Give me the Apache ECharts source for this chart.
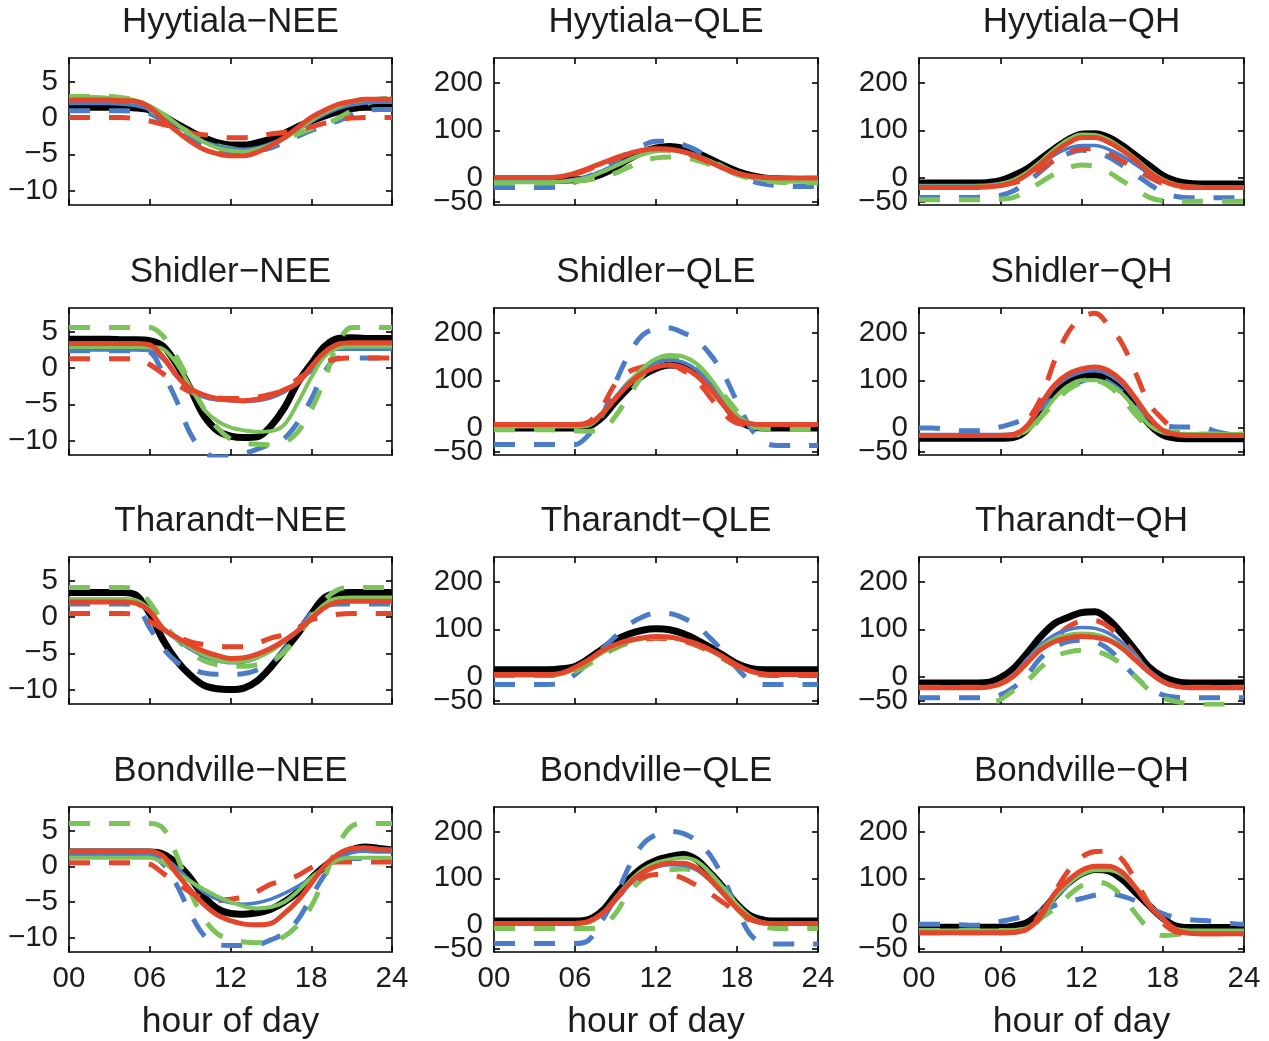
<!DOCTYPE html>
<html><head><meta charset="utf-8">
<script src="https://cdn.jsdelivr.net/npm/echarts@6/dist/echarts.min.js"></script>
<style>html,body{margin:0;padding:0;background:#fff}#c{width:1269px;height:1041px}</style>
</head><body><div id="c"></div><script>
// ---------------- DATA ----------------
const hours = [0,1,2,3,4,5,6,7,8,9,10,11,12,13,14,15,16,17,18,19,20,21,22,23,24];
const xTickValues = [0,6,12,18,24];
const xTickLabels = ['00','06','12','18','24'];
const neeTicks = [-10,-5,0,5];
const fluxTicks = [-50,0,100,200];
const neeRange = [-12, 8.3];
const fluxRange = [-57, 252];
const siteNames = ['Hyytiala','Shidler','Tharandt','Bondville'];
const varNames = ['NEE','QLE','QH'];
const xAxisTitle = 'hour of day';

// Hyytiala
const hyyNEE_obs = [1.5,1.5,1.5,1.5,1.5,1.4,1.1,0.3,-0.8,-1.8,-2.7,-3.4,-3.7,-3.7,-3.4,-2.9,-2.1,-1.2,-0.4,0.3,0.9,1.3,1.5,1.5,1.5];
const hyyNEE_bS = [2.0,2.0,2.0,2.0,1.9,1.7,1.2,0.2,-1.0,-2.2,-3.2,-3.8,-4.2,-4.3,-4.1,-3.5,-2.7,-1.6,-0.5,0.5,1.3,1.8,2.1,2.2,2.2];
const hyyNEE_gS = [2.9,2.9,2.9,2.8,2.7,2.4,1.7,0.6,-0.8,-2.2,-3.3,-4.1,-4.5,-4.6,-4.3,-3.7,-2.8,-1.6,-0.3,0.8,1.6,2.2,2.5,2.6,2.6];
const hyyNEE_rS = [2.5,2.5,2.5,2.5,2.4,2.3,1.5,-0.2,-1.8,-3.2,-4.3,-4.9,-5.2,-5.2,-4.7,-3.8,-2.7,-1.3,0.1,1.1,1.9,2.3,2.6,2.6,2.6];
const hyyNEE_bD = [1.0,1.0,1.0,1.0,1.0,0.9,0.6,-0.5,-1.8,-2.9,-3.8,-4.3,-4.6,-4.7,-4.5,-4.1,-3.3,-2.5,-1.7,-1.0,-0.4,0.4,1.0,1.2,1.2];
const hyyNEE_gD = [3.0,3.0,3.0,3.0,2.8,2.4,1.2,0.1,-1.0,-2.0,-3.1,-3.8,-4.2,-4.4,-4.3,-3.8,-3.0,-2.2,-1.5,-0.9,0.0,1.0,1.9,2.6,2.8];
const hyyNEE_rD = [0.1,0.1,0.1,0.1,0.1,-0.1,-0.4,-0.9,-1.3,-2.0,-2.3,-2.5,-2.7,-2.7,-2.6,-2.2,-2.0,-1.6,-1.2,-0.7,-0.2,0.0,0.1,0.1,0.1];

const hyyQLE_obs = [-5,-5,-5,-5,-5,-5,-4,-1,8,22,40,54,63,66,62,53,40,26,14,5,0,-2,-3,-4,-4];
const hyyQLE_bS = [-8,-8,-8,-8,-8,-7,-3,4,15,28,40,50,57,58,55,47,35,22,11,3,-3,-6,-7,-7,-7];
const hyyQLE_gS = [-9,-9,-9,-9,-9,-8,-5,1,12,25,38,49,56,58,55,47,36,23,11,2,-4,-7,-8,-8,-8];
const hyyQLE_rS = [1,1,1,1,1,3,10,20,31,42,51,58,61,60,55,46,33,20,10,4,1,0,0,0,0];
const hyyQLE_bD = [-20,-20,-20,-20,-20,-19,-9,3,19,37,54,68,77,77,70,58,40,23,7,-6,-13,-16,-18,-18,-18];
const hyyQLE_gD = [-11,-11,-11,-11,-11,-10,-7,-4,1,10,23,35,42,44,42,37,28,18,7,-1,-6,-9,-10,-10,-10];
const hyyQLE_rD = [0,0,0,0,0,2,8,18,29,40,50,56,59,58,53,44,32,20,10,3,0,-1,-1,-1,-1];

const hyyQH_obs = [-11,-11,-11,-11,-11,-10,-6,5,19,40,61,80,92,93,85,68,47,26,5,-7,-12,-13,-13,-13,-13];
const hyyQH_bS = [-16,-16,-16,-16,-16,-15,-12,-5,8,28,48,62,68,68,60,46,28,8,-7,-15,-18,-19,-19,-19,-19];
const hyyQH_gS = [-18,-18,-18,-18,-18,-17,-13,-4,12,35,60,80,91,90,80,62,40,16,-3,-14,-18,-19,-19,-19,-19];
const hyyQH_rS = [-20,-20,-20,-20,-20,-19,-16,-9,7,30,54,73,85,85,75,58,37,12,-6,-16,-19,-20,-20,-20,-20];
const hyyQH_bD = [-41,-41,-41,-41,-41,-40,-37,-27,-9,14,37,51,58,54,44,26,7,-13,-30,-39,-42,-42,-42,-42,-42];
const hyyQH_gD = [-46,-46,-46,-46,-46,-46,-45,-41,-27,-9,8,21,27,24,12,-6,-23,-41,-48,-49,-49,-49,-49,-49,-49];
const hyyQH_rD = [-20,-20,-20,-20,-20,-19,-16,-10,-2,18,37,52,62,62,52,36,18,2,-12,-18,-20,-20,-20,-20,-20];

// Shidler
const shiNEE_obs = [4.0,4.0,4.0,4.0,3.9,3.9,3.8,3.0,0.5,-2.8,-6.5,-8.6,-9.4,-9.6,-9.5,-8.0,-5.5,-2.0,0.6,3.0,4.1,4.2,4.1,4.1,4.1];
const shiNEE_bS = [2.5,2.5,2.5,2.5,2.5,2.5,2.4,1.2,-1.2,-3.0,-4.0,-4.4,-4.5,-4.6,-4.5,-4.1,-3.3,-2.0,-0.3,1.8,2.6,2.6,2.6,2.6,2.6];
const shiNEE_gS = [2.9,2.9,2.9,2.9,2.9,2.9,2.9,2.6,0.6,-2.5,-5.6,-7.3,-8.2,-8.6,-8.8,-8.7,-7.8,-4.8,-1.3,1.6,2.8,3.0,3.0,3.0,3.0];
const shiNEE_rS = [3.4,3.4,3.4,3.4,3.4,3.4,3.2,1.5,-1.0,-2.8,-3.7,-4.2,-4.4,-4.5,-4.3,-3.8,-3.0,-2.0,0.2,2.2,3.3,3.5,3.5,3.5,3.5];
const shiNEE_bD = [2.4,2.4,2.4,2.4,2.4,2.4,2.2,-0.8,-4.5,-9.0,-11.5,-12.3,-12.2,-11.8,-11.2,-10.5,-9.7,-7.5,-4.3,-0.5,1.4,1.4,1.4,1.4,1.4];
const shiNEE_gD = [5.6,5.6,5.6,5.6,5.6,5.6,5.6,4.4,1.5,-2.0,-5.5,-8.2,-9.8,-10.4,-10.5,-10.6,-10.3,-8.8,-5.8,-1.5,3.5,5.6,5.6,5.6,5.6];
const shiNEE_rD = [1.3,1.3,1.3,1.3,1.3,1.3,0.5,-0.8,-2.2,-3.3,-3.9,-4.1,-4.2,-4.2,-4.0,-3.6,-3.0,-1.5,-0.3,0.8,1.3,1.4,1.4,1.4,1.4];

const shiQLE_obs = [0,0,0,0,0,0,0,3,22,55,85,110,125,132,130,115,88,52,18,3,0,0,0,0,0];
const shiQLE_bS = [4,4,4,4,4,4,4,6,30,65,98,122,138,142,138,122,92,55,22,8,6,6,6,6,6];
const shiQLE_gS = [3,3,3,3,3,3,3,5,28,62,95,125,145,153,150,135,105,65,28,10,7,7,7,7,7];
const shiQLE_rS = [7,7,7,7,7,7,7,9,30,62,92,115,128,132,127,110,82,48,18,9,7,7,7,7,7];
const shiQLE_bD = [-35,-35,-35,-35,-35,-35,-35,-15,25,95,155,195,208,210,200,185,155,113,55,0,-30,-37,-37,-37,-37];
const shiQLE_gD = [-4,-4,-4,-4,-4,-5,-6,-7,-5,25,68,110,140,150,145,128,100,70,35,5,-2,-3,-3,-3,-3];
const shiQLE_rD = [7,7,7,7,7,7,7,12,44,93,118,128,132,132,121,100,65,30,10,7,7,7,7,7,7];

const shiQH_obs = [-22,-22,-22,-22,-22,-22,-22,-20,-3,40,76,98,108,111,100,78,45,8,-15,-22,-23,-23,-23,-23,-23];
const shiQH_bS = [-14,-14,-14,-14,-14,-14,-14,-12,2,44,84,106,117,120,113,92,58,20,-5,-12,-14,-14,-14,-14,-14];
const shiQH_gS = [-16,-16,-16,-16,-16,-16,-16,-15,-6,25,62,88,100,100,92,72,40,6,-10,-13,-13,-13,-13,-13,-13];
const shiQH_rS = [-16,-16,-16,-16,-16,-16,-16,-14,5,50,90,113,124,128,120,98,62,22,-5,-14,-16,-16,-16,-16,-16];
const shiQH_bD = [0,0,-3,-6,-6,-4,2,10,22,42,64,85,98,104,96,75,48,22,6,2,2,1,-8,-13,-13];
const shiQH_gD = [-16,-16,-16,-16,-16,-16,-16,-15,-10,22,52,80,95,99,88,62,28,2,-6,-9,-11,-13,-13,-13,-13];
const shiQH_rD = [-16,-16,-16,-16,-16,-16,-16,-14,15,62,140,200,232,241,215,177,115,51,18,-8,-15,-16,-16,-16,-16];

// Tharandt
const thaNEE_obs = [3.4,3.4,3.4,3.4,3.4,3.0,0.5,-3.2,-6.0,-8.0,-9.4,-9.9,-10.0,-9.8,-8.8,-6.9,-4.6,-2.3,0.4,2.7,3.3,3.4,3.4,3.4,3.4];
const thaNEE_bS = [2.2,2.2,2.2,2.2,2.2,2.0,0.8,-1.7,-3.1,-4.4,-5.4,-6.0,-6.3,-6.2,-5.6,-4.6,-3.3,-1.8,0.0,1.6,2.2,2.3,2.3,2.3,2.3];
const thaNEE_gS = [2.5,2.5,2.5,2.5,2.5,2.3,1.0,-1.6,-3.0,-4.2,-5.2,-5.9,-6.2,-6.1,-5.6,-4.7,-3.4,-1.9,0.0,1.8,2.6,2.7,2.7,2.7,2.7];
const thaNEE_rS = [2.1,2.1,2.1,2.1,2.1,1.9,0.8,-1.6,-2.8,-3.8,-4.7,-5.3,-5.7,-5.6,-5.1,-4.3,-3.2,-1.9,-0.2,1.3,2.1,2.2,2.2,2.2,2.2];
const thaNEE_bD = [1.8,1.8,1.8,1.8,1.8,1.5,-1.5,-4.3,-6.2,-7.1,-7.7,-7.9,-7.9,-7.8,-7.3,-6.4,-4.5,-2.0,0.5,1.6,1.8,1.8,1.8,1.8,1.8];
const thaNEE_gD = [4.1,4.1,4.1,4.1,4.1,3.8,2.0,-0.8,-3.0,-4.8,-6.0,-6.6,-6.8,-6.8,-6.6,-6.2,-4.8,-2.6,0.0,2.4,3.8,4.1,4.1,4.1,4.1];
const thaNEE_rD = [0.5,0.5,0.5,0.5,0.5,0.3,-0.6,-1.7,-2.6,-3.4,-3.8,-4.0,-4.1,-4.1,-3.6,-2.9,-2.4,-1.5,-0.4,0.1,0.4,0.5,0.5,0.5,0.5];

const thaQLE_obs = [15,15,15,15,15,17,22,38,58,77,90,98,101,99,91,78,62,45,28,18,15,15,15,15,15];
const thaQLE_bS = [5,5,5,5,5,8,18,34,52,66,76,82,84,83,78,69,56,41,24,11,6,5,5,5,5];
const thaQLE_gS = [3,3,3,3,3,6,16,32,50,64,74,80,82,82,77,68,55,40,24,11,5,4,4,4,4];
const thaQLE_rS = [5,5,5,5,5,8,20,36,55,68,77,82,85,84,78,70,57,42,25,12,6,5,5,5,5];
const thaQLE_bD = [-16,-16,-16,-16,-16,-12,5,30,58,85,110,126,134,133,124,108,82,52,18,-8,-16,-16,-16,-16,-16];
const thaQLE_gD = [3,3,3,3,3,5,12,26,45,60,72,79,82,81,77,68,54,38,22,10,5,4,4,4,4];
const thaQLE_rD = [3,3,3,3,3,6,16,32,50,64,74,79,81,80,75,66,53,38,22,10,4,3,3,3,3];

const thaQH_obs = [-13,-13,-13,-13,-13,-12,-2,18,50,85,112,125,135,137,120,90,55,20,0,-10,-13,-13,-13,-13,-13];
const thaQH_bS = [-22,-22,-22,-22,-22,-21,-13,6,38,68,88,99,104,102,92,72,44,14,-8,-19,-22,-22,-22,-22,-22];
const thaQH_gS = [-22,-22,-22,-22,-22,-21,-14,3,32,62,80,88,91,89,80,63,38,10,-10,-20,-22,-22,-22,-22,-22];
const thaQH_rS = [-23,-23,-23,-23,-23,-22,-15,2,30,58,74,82,85,83,77,60,35,10,-10,-20,-23,-23,-23,-23,-23];
const thaQH_bD = [-44,-44,-44,-44,-44,-43,-38,-22,5,40,62,74,77,74,58,30,0,-24,-38,-43,-44,-44,-44,-44,-44];
const thaQH_gD = [-80,-80,-80,-80,-72,-58,-48,-28,-8,20,42,52,56,54,44,26,0,-28,-44,-52,-56,-58,-58,-58,-58];
const thaQH_rD = [-22,-22,-22,-22,-22,-21,-14,4,32,60,80,105,117,118,105,80,45,12,-10,-20,-22,-22,-22,-22,-22];

// Bondville
const bonNEE_obs = [2.0,2.0,2.0,2.0,2.0,2.0,2.0,1.7,0.4,-1.6,-4.2,-5.9,-6.6,-6.7,-6.5,-6.0,-5.0,-3.6,-1.7,0.0,1.3,2.3,2.7,2.5,2.3];
const bonNEE_bS = [1.8,1.8,1.8,1.8,1.8,1.8,1.8,1.3,-0.2,-2.0,-3.6,-4.6,-5.1,-5.3,-5.1,-4.6,-3.8,-2.8,-1.6,-0.1,1.2,1.9,2.1,2.0,2.0];
const bonNEE_gS = [1.2,1.2,1.2,1.2,1.2,1.2,1.2,0.5,-0.9,-2.1,-3.2,-4.2,-5.0,-5.6,-5.9,-5.7,-5.0,-3.5,-1.6,-0.2,0.9,1.2,1.2,1.2,1.2];
const bonNEE_rS = [2.1,2.1,2.1,2.1,2.1,2.1,2.1,1.4,-1.0,-3.3,-5.3,-6.8,-7.6,-8.1,-8.2,-8.0,-6.6,-4.8,-2.4,0.1,1.7,2.5,2.6,2.4,2.3];
const bonNEE_bD = [1.6,1.6,1.6,1.6,1.6,1.6,1.6,0.3,-2.6,-6.5,-9.6,-10.9,-11.1,-11.1,-11.0,-10.3,-9.4,-7.5,-4.3,-1.2,0.9,1.1,1.1,1.1,1.1];
const bonNEE_gD = [6.0,6.0,6.0,6.0,6.0,6.0,6.0,5.3,1.5,-3.5,-7.2,-9.4,-10.2,-10.6,-10.7,-10.5,-9.8,-8.2,-5.6,-1.5,3.0,5.6,6.0,6.0,6.0];
const bonNEE_rD = [0.5,0.5,0.5,0.5,0.5,0.5,0.3,-1.0,-2.3,-3.6,-4.5,-4.8,-4.6,-4.3,-3.5,-2.5,-2.0,-1.3,-0.2,0.4,0.6,0.6,0.6,0.6,0.6];

const bonQLE_obs = [9,9,9,9,9,9,9,12,30,65,98,123,138,146,151,140,112,80,45,20,11,9,9,9,9];
const bonQLE_bS = [4,4,4,4,4,4,4,6,22,52,85,110,124,129,128,118,95,65,35,14,5,4,4,4,4];
const bonQLE_gS = [4,4,4,4,4,4,4,6,24,58,92,118,133,140,144,137,112,80,45,18,6,4,4,4,4];
const bonQLE_rS = [4,4,4,4,4,4,4,8,25,55,88,112,126,132,132,122,98,67,36,14,5,4,4,4,4];
const bonQLE_bD = [-39,-39,-39,-39,-39,-39,-39,-32,10,60,125,172,193,200,196,180,150,100,35,-20,-38,-40,-40,-40,-40];
const bonQLE_gD = [-7,-7,-7,-7,-7,-7,-7,-7,-3,25,70,98,112,118,120,115,100,70,35,8,-3,-7,-7,-7,-7];
const bonQLE_rD = [4,4,4,4,4,4,4,8,25,55,84,102,108,108,100,85,68,48,28,12,5,4,4,4,4];

const bonQH_obs = [-4,-4,-4,-4,-4,-4,-4,-2,6,28,60,90,110,119,116,98,70,42,15,-2,-5,-5,-5,-5,-5];
const bonQH_bS = [-13,-13,-13,-13,-13,-13,-13,-12,-6,16,56,86,108,118,118,106,78,42,12,-9,-13,-13,-13,-13,-13];
const bonQH_gS = [-11,-11,-11,-11,-11,-11,-11,-10,-5,18,58,88,108,117,117,108,80,45,12,-8,-11,-11,-11,-11,-11];
const bonQH_rS = [-16,-16,-16,-16,-16,-16,-16,-15,-8,20,67,95,117,126,126,113,80,42,14,-10,-17,-18,-18,-18,-18];
const bonQH_bD = [2,2,2,1,0,2,8,14,20,30,42,50,57,64,67,62,52,38,25,16,12,10,7,4,2];
const bonQH_gD = [-11,-11,-11,-11,-11,-11,-11,-12,-12,15,35,62,84,92,86,62,25,-8,-22,-20,-16,-14,-14,-14,-14];
const bonQH_rD = [-16,-16,-16,-16,-16,-16,-16,-15,-6,25,70,115,145,157,158,140,95,45,5,-14,-17,-18,-18,-18,-18];

// panel order: rows = sites, cols = variables; series order: obs, bD, gD, rD, bS, gS, rS
const panelSeries = [
  [hyyNEE_obs,hyyNEE_bD,hyyNEE_gD,hyyNEE_rD,hyyNEE_bS,hyyNEE_gS,hyyNEE_rS],
  [hyyQLE_obs,hyyQLE_bD,hyyQLE_gD,hyyQLE_rD,hyyQLE_bS,hyyQLE_gS,hyyQLE_rS],
  [hyyQH_obs,hyyQH_bD,hyyQH_gD,hyyQH_rD,hyyQH_bS,hyyQH_gS,hyyQH_rS],
  [shiNEE_obs,shiNEE_bD,shiNEE_gD,shiNEE_rD,shiNEE_bS,shiNEE_gS,shiNEE_rS],
  [shiQLE_obs,shiQLE_bD,shiQLE_gD,shiQLE_rD,shiQLE_bS,shiQLE_gS,shiQLE_rS],
  [shiQH_obs,shiQH_bD,shiQH_gD,shiQH_rD,shiQH_bS,shiQH_gS,shiQH_rS],
  [thaNEE_obs,thaNEE_bD,thaNEE_gD,thaNEE_rD,thaNEE_bS,thaNEE_gS,thaNEE_rS],
  [thaQLE_obs,thaQLE_bD,thaQLE_gD,thaQLE_rD,thaQLE_bS,thaQLE_gS,thaQLE_rS],
  [thaQH_obs,thaQH_bD,thaQH_gD,thaQH_rD,thaQH_bS,thaQH_gS,thaQH_rS],
  [bonNEE_obs,bonNEE_bD,bonNEE_gD,bonNEE_rD,bonNEE_bS,bonNEE_gS,bonNEE_rS],
  [bonQLE_obs,bonQLE_bD,bonQLE_gD,bonQLE_rD,bonQLE_bS,bonQLE_gS,bonQLE_rS],
  [bonQH_obs,bonQH_bD,bonQH_gD,bonQH_rD,bonQH_bS,bonQH_gS,bonQH_rS]
];
const seriesNames = ['observed','blue dashed','green dashed','red dashed','blue','green','red'];

// ---------------- STYLE / LAYOUT ----------------
const BLUE = '#4a7cc8', GREEN = '#7cc35a', RED = '#e3462a';
const DASH = [21, 19];
const lineStyles = [
  {color:'#000000', width:7, type:'solid'},
  {color:BLUE, width:5, type:DASH},
  {color:GREEN, width:5, type:DASH},
  {color:RED, width:5, type:DASH},
  {color:BLUE, width:3.5, type:'solid'},
  {color:GREEN, width:4, type:'solid'},
  {color:RED, width:5, type:'solid'}
];
const FONT = 'Liberation Sans, Arial, Helvetica, sans-serif';
const TXT = '#1c1c1c';
const colLeft = [69, 494, 919];
const colWidth = [323, 324, 325];
const rowTop = [58, 308, 557, 807];
const panelHeight = 147;

function minusFmt(v){ return v < 0 ? '\u2212' + Math.abs(v) : String(v); }

const grids = [], xAxes = [], yAxes = [], series = [], titles = [];
for (let r = 0; r < 4; r++) {
  for (let c = 0; c < 3; c++) {
    const k = r * 3 + c;
    const isNEE = c === 0;
    const range = isNEE ? neeRange : fluxRange;
    const ticks = isNEE ? neeTicks : fluxTicks;
    // a blank placeholder at the axis minimum absorbs ECharts' min-label overlap handling
    const tickVals = [range[0]].concat(ticks);
    const labelFmt = v => (ticks.indexOf(v) >= 0 ? minusFmt(v) : '');
    grids.push({left: colLeft[c], top: rowTop[r], width: colWidth[c], height: panelHeight, containLabel: false});
    const axLine = {show: true, onZero: false, lineStyle: {color: '#000', width: 1.6}};
    const tick = {show: true, inside: true, length: 6, lineStyle: {color: '#000', width: 1.6}};
    xAxes.push({
      gridIndex: k, type: 'value', position: 'bottom', min: 0, max: 24, interval: 6,
      axisLine: axLine, axisTick: tick, splitLine: {show: false},
      axisLabel: {show: r === 3, margin: 12, fontSize: 29.5, color: TXT, fontFamily: FONT, hideOverlap: false,
        formatter: v => xTickLabels[xTickValues.indexOf(v)]},
      name: r === 3 ? xAxisTitle : '', nameLocation: 'middle', nameGap: 52,
      nameTextStyle: {fontSize: 35.5, color: TXT, fontFamily: FONT}
    });
    xAxes.push({
      gridIndex: k, type: 'value', position: 'top', min: 0, max: 24, interval: 6,
      axisLine: axLine, axisTick: tick, splitLine: {show: false}, axisLabel: {show: false}
    });
    yAxes.push({
      gridIndex: k, type: 'value', position: 'left', min: range[0], max: range[1],
      axisLine: axLine, axisTick: Object.assign({customValues: tickVals}, tick), splitLine: {show: false},
      axisLabel: {customValues: tickVals, margin: 11, fontSize: 29.5, color: TXT, fontFamily: FONT,
        hideOverlap: false, showMinLabel: false, formatter: labelFmt}
    });
    yAxes.push({
      gridIndex: k, type: 'value', position: 'right', min: range[0], max: range[1],
      axisLine: axLine, axisTick: Object.assign({customValues: ticks}, tick), splitLine: {show: false},
      axisLabel: {show: false, customValues: ticks}
    });
    titles.push({
      text: siteNames[r] + '\u2212' + varNames[c],
      left: colLeft[c] + colWidth[c] / 2, top: rowTop[r] - 53, textAlign: 'center', padding: 0,
      textStyle: {fontSize: 35, fontWeight: 'normal', color: TXT, fontFamily: FONT}
    });
    panelSeries[k].forEach((arr, si) => {
      series.push({
        name: seriesNames[si], type: 'line', xAxisIndex: 2 * k, yAxisIndex: 2 * k,
        data: hours.map((h, i) => [h, arr[i]]),
        showSymbol: false, symbol: 'none', smooth: 0.35, clip: true, silent: true,
        lineStyle: {color: lineStyles[si].color, width: lineStyles[si].width, type: lineStyles[si].type, cap: 'butt', join: 'round'},
        z: 2 + si
      });
    });
  }
}

const chart = echarts.init(document.getElementById('c'), null, {renderer: 'canvas'});
chart.setOption({
  animation: false,
  backgroundColor: '#ffffff',
  title: titles,
  grid: grids,
  xAxis: xAxes,
  yAxis: yAxes,
  series: series
});
</script></body></html>
